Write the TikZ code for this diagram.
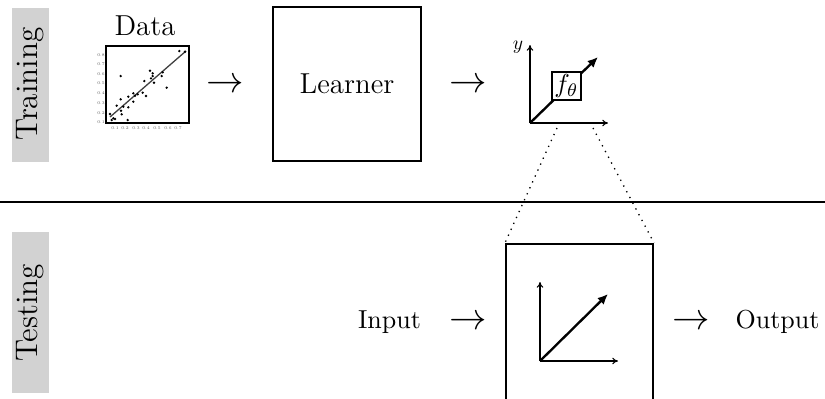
\documentclass[tikz,border=0pt]{standalone}
\usetikzlibrary{arrows.meta}
\begin{document}
\begin{tikzpicture}[x=0.3846pt,y=-0.3846pt,
  lblfill/.style={fill=gray!35},
  lbltext/.style={rotate=90,font=\fontsize{12}{14}\selectfont,inner sep=0pt},
  bigtext/.style={font=\fontsize{11.1}{13}\selectfont},
  ordtext/.style={font=\fontsize{10}{12}\selectfont},
  arrtext/.style={font=\fontsize{14.2}{16}\selectfont,inner sep=0pt},
  thinax/.style={-{To[length=2.2pt,width=2.6pt]},line width=0.4pt},
  thickarr/.style={-{Latex[length=4pt,width=3.6pt]},line width=0.9pt},
  pt/.style={fill=black},
  tick/.style={font=\fontsize{1.6}{2}\selectfont,text=gray!70!black,inner sep=0pt}]
\useasboundingbox (0,0) rectangle (825,398);
% side labels
\fill[lblfill] (12,8) rectangle (49,162);
\node[lbltext] (trainlbl) at (30.5,84) {Training};
\fill[lblfill] (12,232) rectangle (49,393);
\node[lbltext] (testlbl) at (30.5,313) {Testing};
% separator
\coordinate (sepL) at (0,202);
\coordinate (sepR) at (825,202);
\draw[line width=0.5pt] (sepL) -- (sepR);
% Data
\node[bigtext,anchor=base,inner sep=0pt] (datalbl) at (145,35) {Data};
\node[draw,line width=0.5pt,minimum width=83*0.3846pt,minimum height=77*0.3846pt,inner sep=0pt] (plot) at (147.5,84.5) {};
\coordinate (rl1) at (110,117);
\coordinate (rl2) at (186,51);
\draw[line width=0.5pt,black!75] (rl1) -- (rl2);
\foreach \px/\py in {179.3/51,185/51.7,120.7/76,150/70.7,152.7/73.3,162.7/72.3,152.7/76,151/78.3,161.7/76,154/82.7,144.3/81,166.7/87.7,142.7/92.7,146/96,137.7/94.3,135/95.7,133.3/93.3,128.3/96.7,120.7/99.3,133.3/101.7,116.7/105.7,123.3/106.7,128.3/107.3,121/110.7,121.7/114.3,110/114,113.3/118.3,115/119,127.7/120,111.7/120}
  \fill[pt] (\px,\py) circle (1.3);
\foreach \ty/\tl in {55/0.8,64/0.7,74/0.6,83/0.5,93/0.4,103/0.3,113/0.2,122/0.1}
  \node[tick] at (101,\ty) {\tl};
\foreach \tx/\tl in {115/0.1,125/0.2,136/0.3,146/0.4,157/0.5,168/0.6,178/0.7}
  \node[tick] at (\tx,128) {\tl};
% arrows as symbols
\node[arrtext] (a1) at (225.5,86) {$\rightarrow$};
\node[arrtext] (a2) at (468,86) {$\rightarrow$};
% Learner
\node[draw,line width=0.5pt,bigtext,minimum width=148*0.3846pt,minimum height=154*0.3846pt,inner sep=0pt] (learner) at (347,84) {Learner};
% function plot (training)
\coordinate (o1) at (530,123);
\coordinate (y1) at (530,45);
\coordinate (x1) at (608,123);
\coordinate (d1) at (598,57);
\draw[thinax] (o1) -- (y1);
\draw[thinax] (o1) -- (x1);
\draw[thickarr] (o1) -- (d1);
\node[scale=0.75,inner sep=0pt] (ylbl) at (518,47) {$y$};
\node[draw,fill=white,line width=0.5pt,ordtext,minimum width=29*0.3846pt,minimum height=28*0.3846pt,inner sep=0pt] (ftheta) at (566.5,86) {$f_\theta$};
% testing box
\node[draw,line width=0.8pt,minimum width=147*0.3846pt,minimum height=158*0.3846pt,inner sep=0pt] (testbox) at (579.5,323) {};
\coordinate (dl) at (557,128);
\coordinate (dr) at (593,128);
\draw[dotted,line width=0.5pt] (dl) -- (testbox.north west);
\draw[dotted,line width=0.5pt] (dr) -- (testbox.north east);
\coordinate (o2) at (540,361);
\coordinate (y2) at (540,282);
\coordinate (x2) at (618,361);
\coordinate (d2) at (608,294);
\draw[thinax] (o2) -- (y2);
\draw[thinax] (o2) -- (x2);
\draw[thickarr] (o2) -- (d2);
% input / output
\node[ordtext,anchor=base,inner sep=0pt] (input) at (389.5,328) {Input};
\node[arrtext] (a3) at (468.5,323) {$\rightarrow$};
\node[arrtext] (a4) at (691,323) {$\rightarrow$};
\node[ordtext,anchor=base,inner sep=0pt] (output) at (777.5,328) {Output};
\end{tikzpicture}
\end{document}
